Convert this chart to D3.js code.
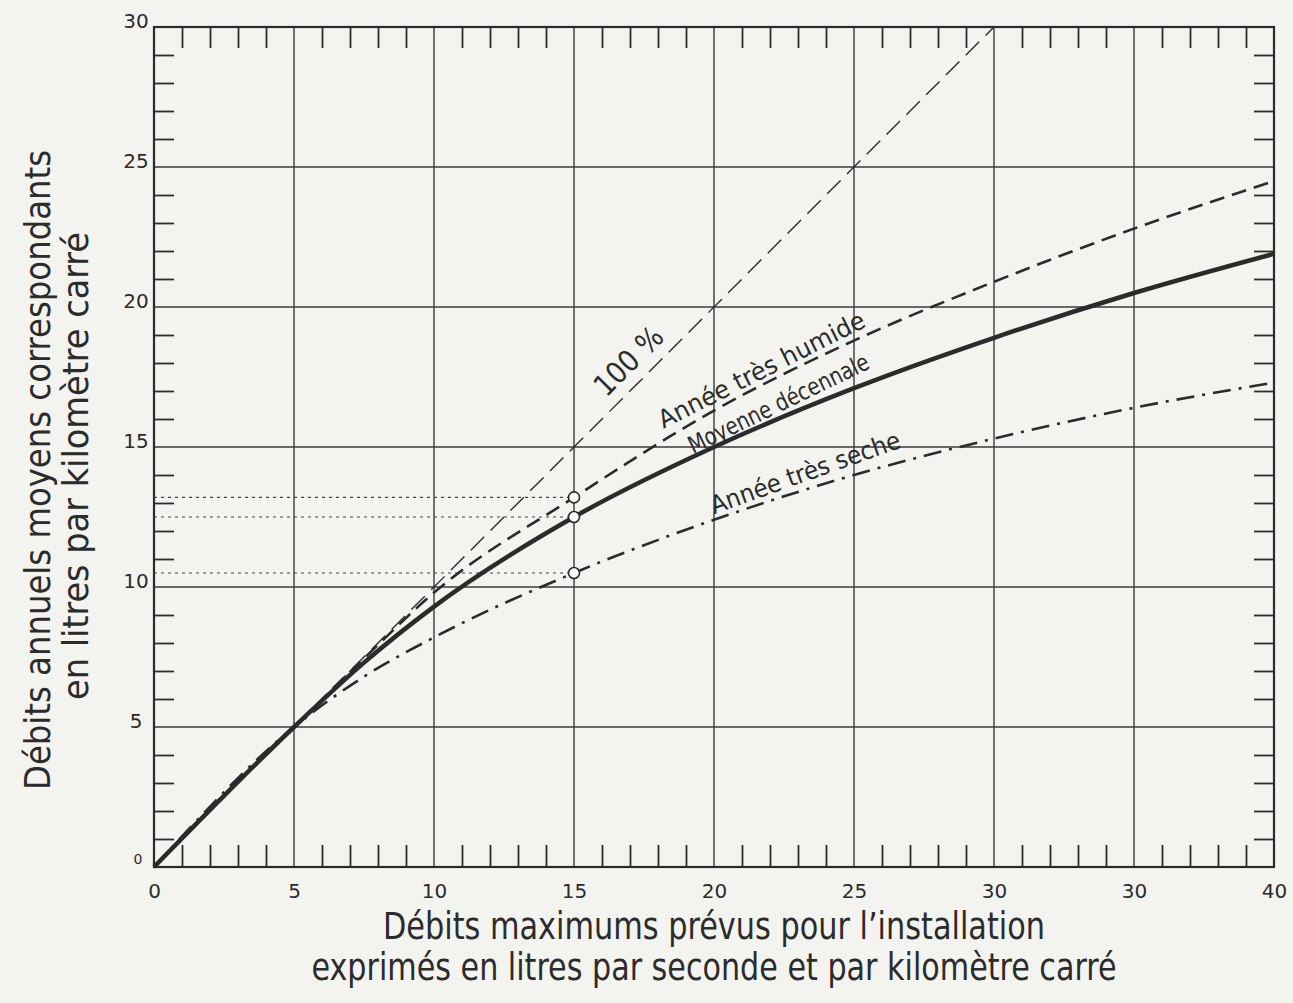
<!DOCTYPE html>
<html>
<head>
<meta charset="utf-8">
<script src="https://cdn.jsdelivr.net/npm/d3@7"></script>
<style>
  body { margin: 0; background: #f3f3f0; }
  svg { display: block; }
</style>
</head>
<body>
<div id="container"></div>
<script>
// debits maximums (abscisse) and the three curves
var debitsMax = [0, 5, 7.5, 10, 15, 20, 25, 30, 35, 40];
var anneeHumide = [0, 5, 7.45, 9.8, 13.2, 16.3, 18.8, 20.9, 22.8, 24.5];
var moyenneDecennale = [0, 5, 7.3, 9.3, 12.5, 15.0, 17.1, 18.9, 20.5, 21.9];
var anneeSeche = [0, 5, 6.8, 8.2, 10.5, 12.4, 14.0, 15.3, 16.4, 17.3];
var ligne100x = [0, 30];
var ligne100y = [0, 30];

var repereX = 15;
var repereValeurs = [13.2, 12.5, 10.5];

var xTicks = [0, 5, 10, 15, 20, 25, 30, 35, 40];
var xTickLabels = ["0", "5", "10", "15", "20", "25", "30", "30", "40"];
var yTicks = [0, 5, 10, 15, 20, 25, 30];
var yTickLabels = ["0", "5", "10", "15", "20", "25", "30"];

var width = 1293, height = 1003;
var ink = "#2b2b2b";
var narrow = "'Liberation Sans Narrow', 'DejaVu Sans Condensed', sans-serif";

var svg = d3.select("#container").append("svg")
  .attr("width", width)
  .attr("height", height);

svg.append("rect").attr("width", width).attr("height", height).attr("fill", "#f3f3f0");

var x = d3.scaleLinear().domain([0, 40]).range([154, 1274]);
var y = d3.scaleLinear().domain([0, 30]).range([867, 27]);

// major grid every 5
var grid = svg.append("g").attr("stroke", "#3a3a3a").attr("stroke-width", 1.4);
d3.range(5, 40, 5).forEach(function(v){
  grid.append("line").attr("x1", x(v)).attr("x2", x(v)).attr("y1", y(0)).attr("y2", y(30));
});
d3.range(5, 30, 5).forEach(function(v){
  grid.append("line").attr("x1", x(0)).attr("x2", x(40)).attr("y1", y(v)).attr("y2", y(v));
});

// minor ticks on the four sides, pointing inwards
var minorX = d3.range(1, 40).filter(function(d){ return d % 5 != 0; });
var minorY = d3.range(1, 30).filter(function(d){ return d % 5 != 0; });

function minor(g){
  g.select(".domain").remove();
  g.selectAll(".tick line").attr("stroke", ink).attr("stroke-width", 1.8);
}
svg.append("g").attr("transform", "translate(0," + y(30) + ")")
  .call(d3.axisBottom(x).tickValues(minorX).tickSize(21).tickFormat("")).call(minor);
svg.append("g").attr("transform", "translate(0," + y(0) + ")")
  .call(d3.axisTop(x).tickValues(minorX).tickSize(22).tickFormat("")).call(minor);
svg.append("g").attr("transform", "translate(" + x(0) + ",0)")
  .call(d3.axisRight(y).tickValues(minorY).tickSize(20).tickFormat("")).call(minor);
svg.append("g").attr("transform", "translate(" + x(40) + ",0)")
  .call(d3.axisLeft(y).tickValues(minorY).tickSize(20).tickFormat("")).call(minor);

// frame
svg.append("rect")
  .attr("x", x(0)).attr("y", y(30))
  .attr("width", x(40) - x(0)).attr("height", y(0) - y(30))
  .attr("fill", "none").attr("stroke", ink).attr("stroke-width", 2.2);

// tick labels
var xAxis = svg.append("g").attr("transform", "translate(0," + y(0) + ")")
  .call(d3.axisBottom(x).tickValues(xTicks).tickSize(0)
    .tickFormat(function(d, i){ return xTickLabels[i]; }));
xAxis.select(".domain").remove();
xAxis.selectAll("text")
  .attr("y", 31).attr("dy", 0)
  .attr("font-family", "'DejaVu Sans', sans-serif").attr("font-size", 20)
  .attr("fill", ink);

svg.append("g").selectAll("text")
  .data(yTicks)
  .enter().append("text")
  .attr("x", function(d){ return d == 0 ? 138 : 136; })
  .attr("y", function(d){ return d == 0 ? y(d) - 3 : y(d) + 1; })
  .attr("text-anchor", "middle")
  .attr("font-family", "'DejaVu Sans', sans-serif")
  .attr("font-size", function(d){ return d == 0 ? 14 : 20; })
  .attr("fill", ink)
  .text(function(d, i){ return yTickLabels[i]; });

// dotted reading lines to the axis
svg.append("g").selectAll("line")
  .data(repereValeurs)
  .enter().append("line")
  .attr("x1", x(0)).attr("x2", x(repereX))
  .attr("y1", function(d){ return y(d); }).attr("y2", function(d){ return y(d); })
  .attr("stroke", "#444").attr("stroke-width", 1.1)
  .attr("stroke-dasharray", "3,4");

// curves
var line = d3.line()
  .x(function(d){ return x(d[0]); })
  .y(function(d){ return y(d[1]); })
  .curve(d3.curveMonotoneX);

function pairs(xs, ys){ return xs.map(function(v, i){ return [v, ys[i]]; }); }

svg.append("path").datum(pairs(ligne100x, ligne100y))
  .attr("d", line).attr("fill", "none")
  .attr("stroke", ink).attr("stroke-width", 1.4).attr("stroke-dasharray", "19,9");

svg.append("path").datum(pairs(debitsMax, anneeHumide))
  .attr("d", line).attr("fill", "none")
  .attr("stroke", ink).attr("stroke-width", 2.6).attr("stroke-dasharray", "15,8");

svg.append("path").datum(pairs(debitsMax, anneeSeche))
  .attr("d", line).attr("fill", "none")
  .attr("stroke", ink).attr("stroke-width", 2.6).attr("stroke-dasharray", "18,8,3,8");

svg.append("path").datum(pairs(debitsMax, moyenneDecennale))
  .attr("d", line).attr("fill", "none")
  .attr("stroke", ink).attr("stroke-width", 4.5).attr("stroke-linejoin", "round");

// open circles at 15
svg.append("g").selectAll("circle")
  .data(repereValeurs)
  .enter().append("circle")
  .attr("cx", x(repereX)).attr("cy", function(d){ return y(d); })
  .attr("r", 5.5)
  .attr("fill", "#fbfbf9").attr("stroke", ink).attr("stroke-width", 1.6);

// curve labels
var labels = [
  {t: "100 %", x: 16.15, y: 16.75, a: -45, s: 30, len: 84},
  {t: "Année   très   humide", x: 18.2, y: 15.65, a: -26.8, s: 25, len: 228},
  {t: "Moyenne  décennale", x: 19.25, y: 14.75, a: -25.8, s: 24, len: 198},
  {t: "Année   très   seche", x: 20.0, y: 12.6, a: -19.6, s: 25, len: 200}
];
svg.append("g").selectAll("text")
  .data(labels)
  .enter().append("text")
  .attr("transform", function(d){ return "translate(" + x(d.x) + "," + y(d.y) + ") rotate(" + d.a + ")"; })
  .attr("font-family", "'DejaVu Sans Condensed', sans-serif")
  .attr("font-size", function(d){ return d.s; })
  .attr("textLength", function(d){ return d.len; })
  .attr("lengthAdjust", "spacingAndGlyphs")
  .attr("fill", ink)
  .text(function(d){ return d.t; });

// axis titles
var titles = svg.append("g").attr("font-family", narrow).attr("fill", ink).attr("text-anchor", "middle");
titles.append("text").attr("x", 714).attr("y", 939).attr("font-size", 37)
  .attr("textLength", 662).attr("lengthAdjust", "spacingAndGlyphs")
  .text("Débits maximums prévus pour l’installation");
titles.append("text").attr("x", 714).attr("y", 980).attr("font-size", 37)
  .attr("textLength", 805).attr("lengthAdjust", "spacingAndGlyphs")
  .text("exprimés en litres par seconde et par kilomètre carré");

titles.append("text").attr("transform", "translate(50,470) rotate(-90)").attr("font-size", 35)
  .attr("textLength", 640).attr("lengthAdjust", "spacingAndGlyphs")
  .text("Débits annuels moyens correspondants");
titles.append("text").attr("transform", "translate(88,466) rotate(-90)").attr("font-size", 35)
  .attr("textLength", 468).attr("lengthAdjust", "spacingAndGlyphs")
  .text("en litres par kilomètre carré");
</script>
</body>
</html>
